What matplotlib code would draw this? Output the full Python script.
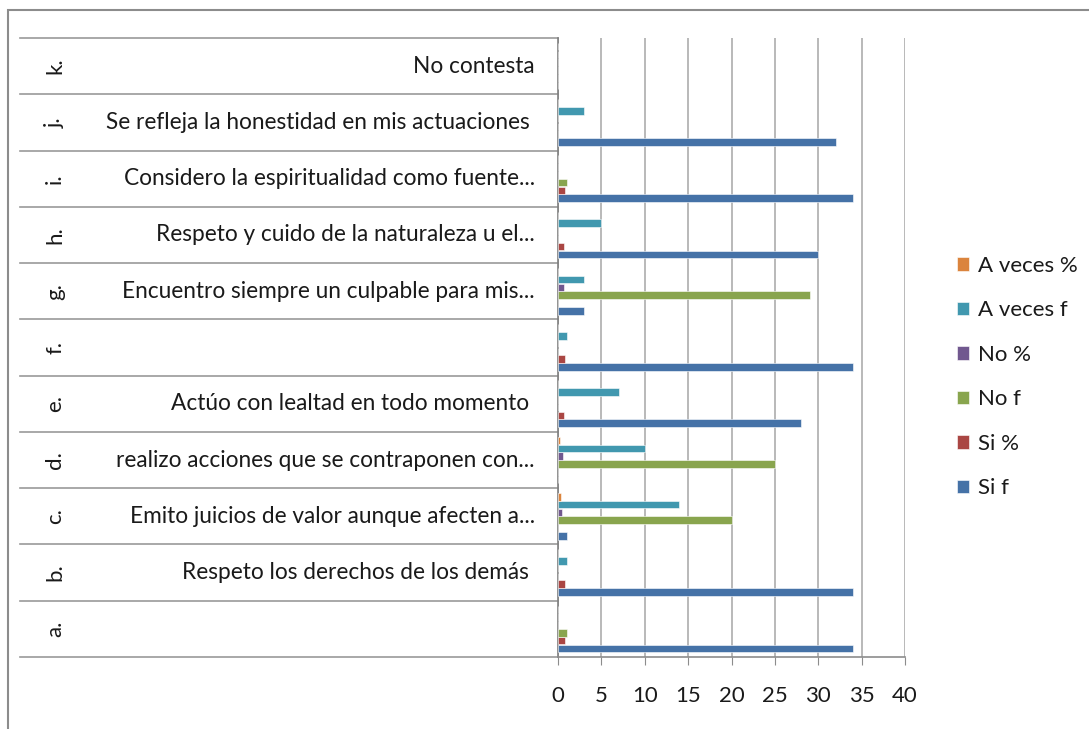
import matplotlib.pyplot as plt
import matplotlib.transforms as mtransforms
from matplotlib.patches import Rectangle
import numpy as np

plt.rcParams['font.family'] = ['Lato', 'DejaVu Sans']

# categories a. .. k. (bottom to top)
letters = ['a.', 'b.', 'c.', 'd.', 'e.', 'f.', 'g.', 'h.', 'i.', 'j.', 'k.']
descriptions = ['',
                'Respeto los derechos de los demás ',
                'Emito juicios de valor aunque afecten a...',
                'realizo acciones que se contraponen con...',
                'Actúo con lealtad en todo momento ',
                '',
                'Encuentro siempre un culpable para mis...',
                'Respeto y cuido de la naturaleza u el...',
                'Considero la espiritualidad como fuente...',
                'Se refleja la honestidad en mis actuaciones ',
                'No contesta']

si_f = [34, 34, 1, 0, 28, 34, 3, 30, 34, 32, 0]
si_pct = [0.81, 0.81, 0, 0, 0.67, 0.81, 0, 0.71, 0.81, 0, 0]
no_f = [1, 0, 20, 25, 0, 0, 29, 0, 1, 0, 0]
no_pct = [0, 0, 0.45, 0.58, 0, 0, 0.69, 0, 0, 0, 0]
av_f = [0, 1, 14, 10, 7, 1, 3, 5, 0, 3, 0]
av_pct = [0, 0, 0.3, 0.2, 0, 0, 0, 0, 0, 0, 0]

series_names = ['Si f', 'Si %', 'No f', 'No %', 'A veces f', 'A veces %']
series = [si_f, si_pct, no_f, no_pct, av_f, av_pct]
colors = ['#4572A7', '#AA4643', '#89A54E', '#71588F', '#4198AF', '#DB843D']

W, H = 1089, 729
fig = plt.figure(figsize=(W / 100, H / 100), dpi=100)
x0, x1, y0, y1 = 558, 905, 38, 657
ax = fig.add_axes([x0 / W, 1 - y1 / H, (x1 - x0) / W, (y1 - y0) / H])

# outer chart border
fig.patches.append(Rectangle((8 / W, -0.01), 1.0, 1 - 10 / H + 0.01, transform=fig.transFigure,
                             fill=False, edgecolor='#8c8c8c', lw=1.5))

pos = np.arange(len(letters))
step = 0.1385
handles = []
for i, (name, vals, c) in enumerate(zip(series_names, series, colors)):
    b = ax.barh(pos + (i - 2.5) * step, vals, height=0.135, color=c,
                edgecolor='white', linewidth=0.4, label=name, zorder=3)
    handles.append(b)

ax.set_xlim(0, 40)
ax.set_ylim(-0.5, len(letters) - 0.5)
ax.set_xticks(range(0, 41, 5))
ax.tick_params(axis='x', length=6, color='#8c8c8c', pad=15, labelsize=16, labelcolor='#1a1a1a')
ax.set_yticks([])
ax.grid(axis='x', color='#a6a6a6', lw=1.1, zorder=0)
ax.set_axisbelow(True)
for s in ['top', 'right']:
    ax.spines[s].set_visible(False)
ax.spines['left'].set_color('#7f7f7f')
ax.spines['bottom'].set_color('#8c8c8c')
ax.spines['left'].set_linewidth(1.2)
ax.spines['bottom'].set_linewidth(1.2)

trans = mtransforms.blended_transform_factory(ax.transAxes, ax.transData)
lx = (20 - x0) / (x1 - x0)
for k in range(len(letters) + 1):
    ax.plot([lx, 0], [k - 0.5, k - 0.5], transform=trans, color='#9a9a9a', lw=1.2, clip_on=False)

for k in range(len(letters)):
    ax.text((55 - x0) / (x1 - x0), k, letters[k], transform=trans, rotation=90,
            ha='center', va='center', fontsize=16, color='#1a1a1a')
    ax.text((535 - x0) / (x1 - x0), k, descriptions[k], transform=trans,
            ha='right', va='center', fontsize=16.3, color='#1a1a1a')

leg = fig.legend(handles[::-1], series_names[::-1], loc='upper left',
                 bbox_to_anchor=(937 / W, 1 - 236 / H), frameon=False,
                 fontsize=16, labelspacing=1.1, handlelength=0.55, handleheight=0.55,
                 handletextpad=0.4)
for t in leg.get_texts():
    t.set_color('#1a1a1a')

fig.savefig('out.png', dpi=100)
